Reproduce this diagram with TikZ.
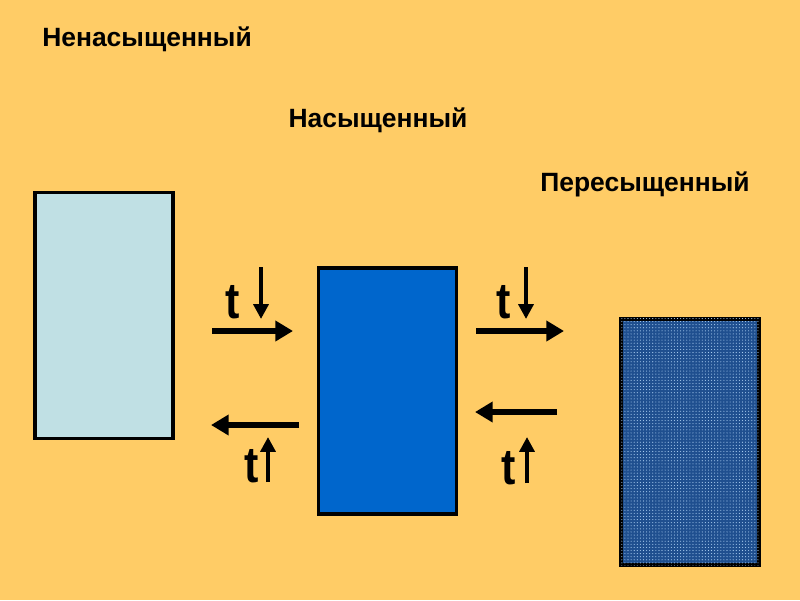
\documentclass[tikz,border=0pt]{standalone}
\usepackage{fontspec}
\setmainfont{Liberation Sans}
\usetikzlibrary{arrows.meta,patterns.meta}
\definecolor{solBack}{HTML}{FFCC66}
\definecolor{solPale}{HTML}{C0E0E4}
\definecolor{solBlue}{HTML}{0066CC}
\definecolor{solDeep}{HTML}{1F4F8F}
\definecolor{solDot}{HTML}{A8CCF0}
\tikzset{
  sol box/.style={draw=black, line width=2.2pt, minimum width=3.45cm, minimum height=6.15cm, inner sep=0pt},
  sol title/.style={font=\bfseries\fontsize{18.8}{20}\selectfont, inner sep=0pt},
  sol temp/.style={font=\bfseries\fontsize{36}{38}\selectfont, inner sep=0pt, anchor=base, xscale=0.85},
  sol shift/.style={line width=4pt, -{Triangle[length=12.5pt,width=14pt]}},
  sol sign/.style={line width=2.8pt, -{Triangle[length=10.5pt,width=10.5pt]}},
}
\begin{document}
\begin{tikzpicture}[x=0.025cm,y=-0.025cm]
  \fill[solBack] (0,0) rectangle (800,600);
  % Three solutions
  \node[sol box, fill=solPale] (unsat) at (104,315.5) {};
  \node[sol box, fill=solBlue] (sat) at (387.5,391) {};
  \node[sol box, fill=solDeep,
    postaction={pattern={Dots[distance=2.2pt,radius=0.4pt]}, pattern color=solDot}] (super) at (690,442) {};
  % Titles
  \node[sol title, anchor=base west] (tunsat) at (42,46) {Ненасыщенный};
  \node[sol title, anchor=base] (tsat) at (378,127) {Насыщенный};
  \node[sol title, anchor=base] (tsuper) at (645,191) {Пересыщенный};
  % Horizontal shifts
  \coordinate (lta) at (212,331); \coordinate (ltb) at (293,331);
  \coordinate (lba) at (299,425); \coordinate (lbb) at (211,425);
  \coordinate (rta) at (476,331); \coordinate (rtb) at (564,331);
  \coordinate (rba) at (557,412); \coordinate (rbb) at (475,412);
  \draw[sol shift] (lta) -- (ltb);
  \draw[sol shift] (lba) -- (lbb);
  \draw[sol shift] (rta) -- (rtb);
  \draw[sol shift] (rba) -- (rbb);
  % Temperature signs
  \node[sol temp] (tlt) at (233,318) {t};
  \node[sol temp] (tlb) at (252,482) {t};
  \node[sol temp] (trt) at (504,318) {t};
  \node[sol temp] (trb) at (509,484) {t};
  \coordinate (dlt) at (261,267); \coordinate (elt) at (261,319);
  \coordinate (dlb) at (268,482); \coordinate (elb) at (268,437);
  \coordinate (drt) at (526,267); \coordinate (ert) at (526,319);
  \coordinate (drb) at (527,483); \coordinate (erb) at (527,437);
  \draw[sol sign] (dlt) -- (elt);
  \draw[sol sign] (dlb) -- (elb);
  \draw[sol sign] (drt) -- (ert);
  \draw[sol sign] (drb) -- (erb);
\end{tikzpicture}
\end{document}
